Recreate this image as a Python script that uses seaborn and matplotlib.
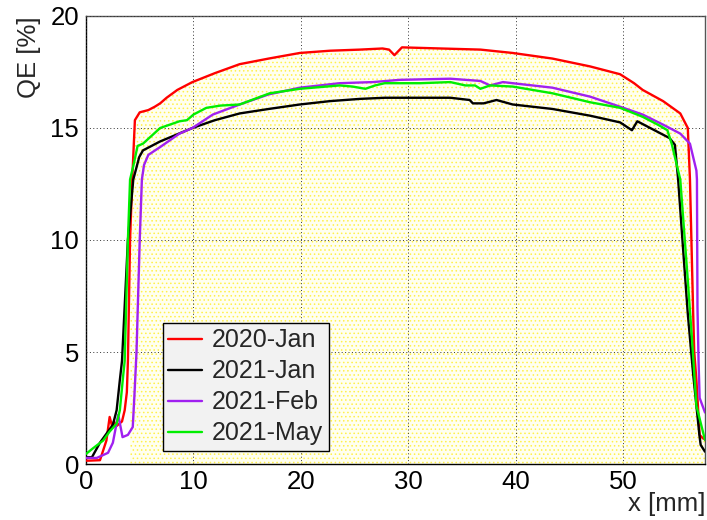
import numpy as np
import pandas as pd
import matplotlib
matplotlib.use("Agg")
import matplotlib.pyplot as plt
import seaborn as sns
from matplotlib.ticker import MultipleLocator

# ---- data ----
labels = ["2020-Jan", "2021-Jan", "2021-Feb", "2021-May"]
colors = ["#ff0000", "#000000", "#a020f0", "#00ee00"]

x_2020jan = [0, 0.3, 1.3, 1.9, 2.2, 2.45, 2.6, 2.85, 3.35, 3.6, 3.8, 3.9, 4.1, 4.3, 4.55, 5.0, 5.8, 6.4,
             6.9, 7.5, 8.5, 9.9, 12.0, 14.3, 17.0, 19.9, 22.7, 25.5, 27.6, 28.2, 28.7, 29.4, 33.0, 36.7,
             39.7, 43.4, 46.9, 49.7, 51.0, 51.8, 53.7, 55.3, 56.0, 56.2, 56.5, 56.6, 56.8, 57.1, 57.4, 57.6]
y_2020jan = [0.15, 0.15, 0.17, 1.05, 2.1, 1.65, 1.9, 1.7, 1.9, 2.4, 3.2, 4.6, 10.0, 12.7, 15.35, 15.7, 15.8, 15.95,
             16.1, 16.35, 16.7, 17.05, 17.45, 17.85, 18.1, 18.35, 18.45, 18.5, 18.55, 18.5, 18.25, 18.6, 18.55, 18.5,
             18.35, 18.1, 17.75, 17.4, 17.0, 16.7, 16.2, 15.65, 15.0, 12.7, 6.7, 5.0, 3.75, 1.3, 1.15, 1.1]

x_2021jan = [0, 0.55, 1.3, 2.05, 2.5, 2.85, 3.15, 3.35, 3.9, 4.4, 4.95, 5.3, 6.9, 9.9, 12.0, 14.3, 17.0, 19.9,
             22.7, 25.5, 27.8, 31.1, 33.9, 35.7, 36.0, 37.0, 38.2, 39.7, 43.4, 46.9, 49.7, 50.8, 51.3, 54.3,
             54.8, 55.1, 55.5, 56.0, 56.5, 57.1, 57.2, 57.6]
y_2021jan = [0.3, 0.3, 0.95, 1.45, 1.75, 2.4, 3.75, 4.6, 10.0, 12.7, 13.7, 14.0, 14.4, 15.0, 15.35, 15.65, 15.85, 16.05,
             16.2, 16.3, 16.35, 16.35, 16.35, 16.25, 16.1, 16.1, 16.25, 16.05, 15.85, 15.55, 15.25, 14.9, 15.3, 14.55,
             14.25, 12.7, 10.0, 6.7, 4.0, 1.2, 0.85, 0.55]

x_2021feb = [0, 1.0, 1.6, 2.05, 2.5, 3.0, 3.4, 3.9, 4.35, 4.5, 4.7, 5.0, 5.2, 5.4, 5.8, 6.9, 8.7, 9.9, 11.8,
             14.3, 17.0, 19.9, 23.6, 26.7, 29.2, 33.9, 36.7, 37.6, 38.8, 39.7, 43.4, 46.9, 49.7, 51.8, 53.7,
             55.3, 56.2, 56.8, 56.85, 56.9, 57.0, 57.1, 57.6]
y_2021feb = [0.27, 0.27, 0.4, 0.5, 0.95, 2.2, 1.2, 1.3, 1.65, 3.0, 5.0, 10.0, 12.7, 13.35, 13.8, 14.15, 14.75, 15.0, 15.6,
             16.05, 16.5, 16.8, 17.0, 17.05, 17.15, 17.2, 17.1, 16.9, 17.05, 17.0, 16.8, 16.4, 15.95, 15.6, 15.15,
             14.75, 14.3, 13.1, 12.7, 7.0, 4.6, 2.95, 2.3]

x_2021may = [0, 0.65, 1.6, 2.2, 2.85, 3.15, 3.45, 3.6, 3.9, 4.1, 4.4, 4.8, 5.3, 6.9, 8.7, 9.4, 10.0, 11.2, 12.5,
             14.3, 17.1, 19.9, 23.6, 24.8, 26.0, 26.9, 27.8, 31.1, 33.9, 35.3, 36.2, 36.7, 37.6, 39.7, 43.4,
             46.9, 49.7, 51.8, 53.4, 54.1, 54.5, 55.0, 55.3, 56.0, 56.4, 56.8, 57.6]
y_2021may = [0.45, 0.7, 1.05, 1.45, 1.8, 2.4, 3.9, 4.6, 10.0, 12.7, 13.3, 14.2, 14.3, 15.0, 15.3, 15.35, 15.6, 15.9, 16.0,
             16.05, 16.55, 16.75, 16.9, 16.85, 16.75, 16.9, 17.0, 17.0, 17.05, 16.9, 16.9, 16.75, 16.9, 16.85, 16.55,
             16.15, 15.9, 15.5, 15.1, 14.9, 14.3, 13.3, 12.7, 8.2, 5.5, 2.6, 1.07]

xs = [x_2020jan, x_2021jan, x_2021feb, x_2021may]
ys = [y_2020jan, y_2021jan, y_2021feb, y_2021may]

frames = []
for lab, xv, yv in zip(labels, xs, ys):
    frames.append(pd.DataFrame({"x": xv, "QE": yv, "run": lab}))
df = pd.concat(frames, ignore_index=True)

# ---- style ----
sns.set_theme(style="white")
plt.rcParams["font.family"] = ["Liberation Sans", "DejaVu Sans"]
plt.rcParams["hatch.linewidth"] = 0.6

fig = plt.figure(figsize=(7.07, 5.20), dpi=100)
ax = fig.add_axes([86 / 707, 56 / 520, 619 / 707, 448 / 520])

# pale yellow dotted fill under the 2020-Jan curve
rx = np.array(x_2020jan)
ry = np.array(y_2020jan)
ax.fill_between(rx, 0, ry, where=(rx >= 4.1), facecolor="#fffff0", edgecolor="#fff04a",
                hatch="....", linewidth=0, zorder=0)

sns.lineplot(data=df, x="x", y="QE", hue="run", hue_order=labels, palette=colors,
             sort=False, estimator=None, units="run", linewidth=1.7, ax=ax, zorder=3)

ax.set_xlim(0, 57.6)
ax.set_ylim(0, 20)
ax.xaxis.set_major_locator(MultipleLocator(10))
ax.xaxis.set_minor_locator(MultipleLocator(2))
ax.yaxis.set_major_locator(MultipleLocator(5))
ax.yaxis.set_minor_locator(MultipleLocator(1))

ax.tick_params(axis="both", which="both", direction="in", colors="black", labelsize=18.5)
ax.tick_params(axis="y", which="major", length=13, width=1, pad=5)
ax.tick_params(axis="y", which="minor", length=7, width=1)
ax.tick_params(axis="x", which="major", length=8, width=1, pad=4)
ax.tick_params(axis="x", which="minor", length=4.5, width=1)

ax.grid(True, which="major", linestyle=(0, (1, 2.5)), color="#333333", linewidth=0.7, zorder=1)
ax.set_axisbelow(False)
for s in ax.spines.values():
    s.set_color("black")
    s.set_linewidth(1.0)
ax.spines["top"].set_color("#555555")
ax.spines["right"].set_color("#555555")

ax.set_xlabel("x [mm]", fontsize=18.5, loc="right", labelpad=-1)
ax.set_ylabel("QE [%]", fontsize=18.5, loc="top", labelpad=7)

handles, labs = ax.get_legend_handles_labels()
leg = ax.legend(handles, labs, loc="upper left", bbox_to_anchor=(0.124, 0.315),
                fontsize=18, frameon=True, fancybox=False, framealpha=1,
                facecolor="#f2f2f2", edgecolor="black", borderaxespad=0,
                borderpad=0.22, handlelength=1.35, handletextpad=0.4, labelspacing=0.28)
leg.get_frame().set_linewidth(1.0)
for line in leg.get_lines():
    line.set_linewidth(1.7)
leg.set_zorder(5)

fig.savefig("out.png", dpi=100)
